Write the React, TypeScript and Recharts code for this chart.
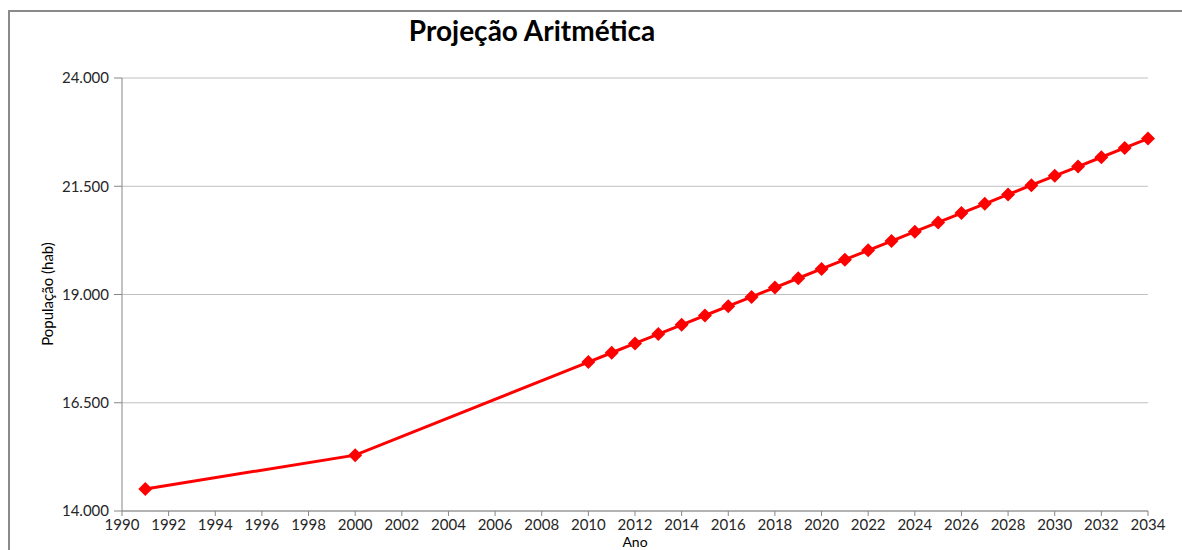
import { LineChart, Line, XAxis, YAxis, CartesianGrid } from "recharts";

const years = [
  1991, 2000, 2010, 2011, 2012, 2013, 2014, 2015, 2016, 2017, 2018, 2019, 2020,
  2021, 2022, 2023, 2024, 2025, 2026, 2027, 2028, 2029, 2030, 2031, 2032, 2033,
  2034,
];
const populacao = [
  14510, 15290, 17440, 17655, 17870, 18085, 18300, 18515, 18730, 18945, 19160,
  19375, 19590, 19805, 20020, 20235, 20450, 20665, 20880, 21095, 21310, 21525,
  21740, 21955, 22170, 22385, 22600,
];
const xTicks = [
  1990, 1992, 1994, 1996, 1998, 2000, 2002, 2004, 2006, 2008, 2010, 2012, 2014,
  2016, 2018, 2020, 2022, 2024, 2026, 2028, 2030, 2032, 2034,
];
const yTicks = [14000, 16500, 19000, 21500, 24000];

const data = years.map((ano, i) => ({ ano, pop: populacao[i] }));

const FONT = "Lato, 'Liberation Sans', sans-serif";
const fmt = (v: number) => String(v).replace(/\B(?=(\d{3})+(?!\d))/g, ".");

const Diamond = (props: any) => {
  const { cx, cy, index } = props;
  if (cx == null || cy == null) return <g key={index} />;
  const r = 7;
  return (
    <path
      key={index}
      d={`M${cx},${cy - r}L${cx + r},${cy}L${cx},${cy + r}L${cx - r},${cy}Z`}
      fill="#ff0000"
    />
  );
};

export default function App() {
  return (
    <div
      style={{
        position: "absolute",
        left: 0,
        top: 0,
        width: 1182,
        height: 550,
        overflow: "hidden",
        background: "#fff",
        fontFamily: FONT,
      }}
    >
      <div
        style={{
          position: "absolute",
          left: 8,
          top: 10,
          width: 1300,
          height: 700,
          borderLeft: "2px solid #8a8a8a",
          borderTop: "2px solid #8a8a8a",
        }}
      />
      <div
        style={{
          position: "absolute",
          left: 0,
          top: 0,
          width: 1182,
          height: 550,
        }}
      >
        <LineChart
          width={1182}
          height={550}
          data={data}
          margin={{ top: 78, right: 34, bottom: 9, left: 62 }}
        >
          <CartesianGrid stroke="#c0c0c0" vertical={false} />
          <XAxis
            dataKey="ano"
            type="number"
            domain={[1990, 2034]}
            ticks={xTicks}
            interval={0}
            height={30}
            stroke="#868686"
            tickSize={5}
            tickMargin={3}
            tick={{ fontSize: 15, fill: "#262626", fontFamily: FONT }}
          />
          <YAxis
            type="number"
            domain={[14000, 24000]}
            ticks={yTicks}
            width={60}
            stroke="#868686"
            tickSize={8}
            tickMargin={5}
            tickFormatter={fmt}
            tick={{ fontSize: 15, fill: "#262626", fontFamily: FONT }}
          />
          <Line
            dataKey="pop"
            stroke="#ff0000"
            strokeWidth={3}
            dot={Diamond}
            isAnimationActive={false}
          />
        </LineChart>
      </div>
      <div
        style={{
          position: "absolute",
          left: 332,
          top: 13,
          width: 400,
          textAlign: "center",
          fontSize: 28,
          fontWeight: "bold",
          color: "#000",
        }}
      >
        Projeção Aritmética
      </div>
      <div
        style={{
          position: "absolute",
          left: 47,
          top: 294,
          transform: "translate(-50%, -50%) rotate(-90deg)",
          whiteSpace: "nowrap",
          fontSize: 15,
          color: "#000",
        }}
      >
        População (hab)
      </div>
      <div
        style={{
          position: "absolute",
          left: 635,
          top: 541,
          transform: "translate(-50%, -50%)",
          fontSize: 14,
          lineHeight: "15px",
          color: "#000",
        }}
      >
        Ano
      </div>
    </div>
  );
}
